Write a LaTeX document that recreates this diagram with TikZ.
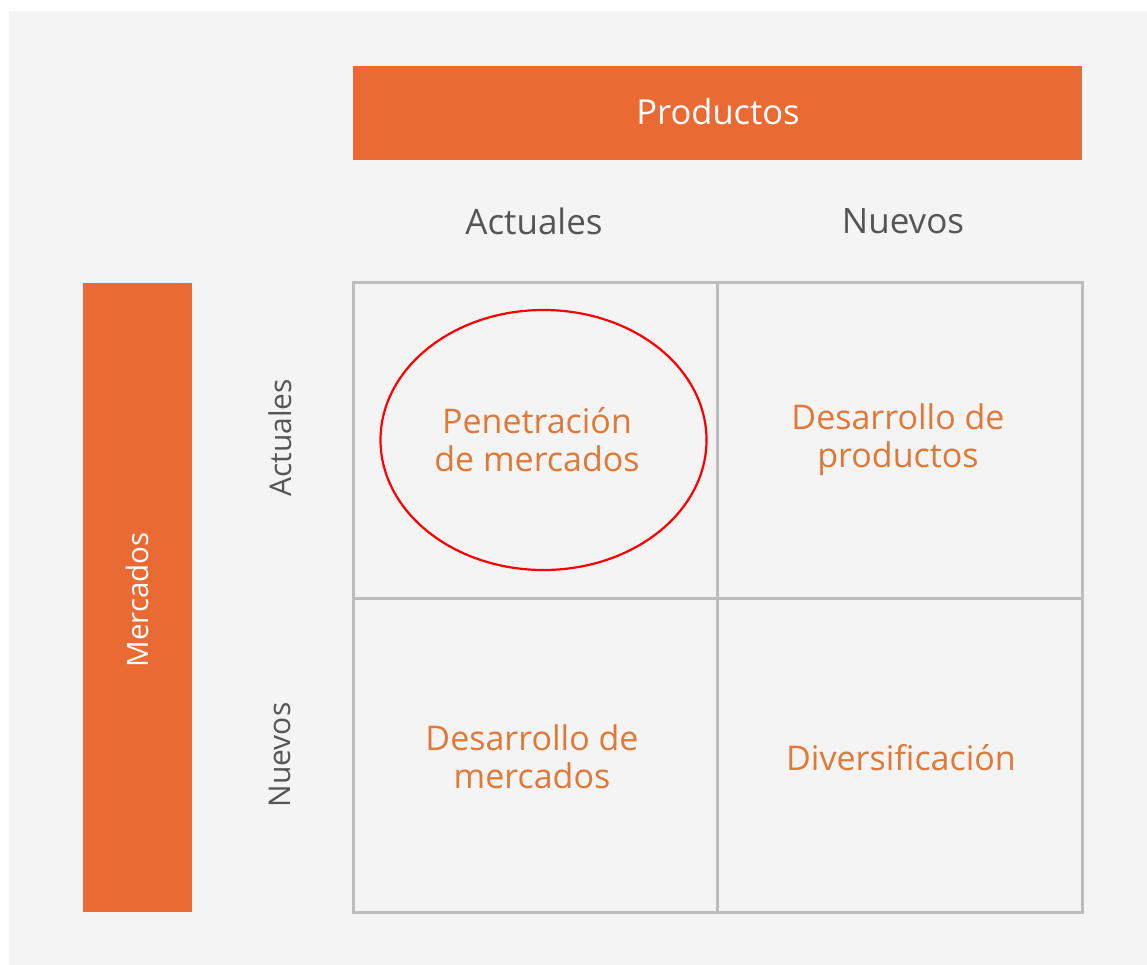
\documentclass[tikz,border=0pt]{standalone}
\usepackage{fontspec}
\setmainfont{Open Sans}
\definecolor{bgc}{HTML}{F4F4F4}
\definecolor{orng}{HTML}{E96B33}
\definecolor{celltxt}{HTML}{E07838}
\definecolor{grid}{HTML}{BDBDBD}
\definecolor{lbl}{HTML}{555555}
\begin{document}
\begin{tikzpicture}[x=1pt,y=-1pt,
  band/.style={fill=orng,draw=none},
  headtxt/.style={text=white,font=\fontsize{34.5}{40}\selectfont},
  vheadtxt/.style={text=white,font=\fontsize{29.5}{36}\selectfont},
  axistxt/.style={text=lbl,font=\fontsize{35}{40}\selectfont},
  vaxistxt/.style={text=lbl,font=\fontsize{30}{36}\selectfont},
  celltext/.style={text=celltxt,font=\fontsize{34}{38}\selectfont,align=center},
  gridline/.style={draw=grid,line width=3pt}]
\useasboundingbox (0,0) rectangle (1147,965);
\fill[white] (0,0) rectangle (1147,965);
\fill[bgc] (9,11) rectangle (1147,965);
% bands
\fill[band] (353,66) rectangle (1082,160);
\node[headtxt] (prod) at (718,112) {Productos};
\fill[band] (83,283) rectangle (192,912);
\node[vheadtxt,rotate=90] (merc) at (137.5,600) {Mercados};
% axis labels
\node[axistxt] (pa) at (534,221) {Actuales};
\node[axistxt] (pn) at (903,221) {Nuevos};
\node[vaxistxt,rotate=90] (ma) at (280,438) {Actuales};
\node[vaxistxt,rotate=90] (mn) at (280,755) {Nuevos};
% grid
\draw[gridline] (353,283) rectangle (1082,912);
\draw[gridline] (717,283) -- (717,912);
\draw[gridline] (353,598) -- (1082,598);
% cells
\node[celltext] (c11) at (537,440) {Penetración\\de mercados};
\node[celltext] (c12) at (898,440) {Desarrollo de\\productos};
\node[celltext] (c21) at (532,757) {Desarrollo de\\mercados};
\node[celltext] (c22) at (901,758) {Diversificación};
% ellipse
\draw[red,line width=2.2pt] (543.5,440) ellipse [x radius=163,y radius=130];
\end{tikzpicture}
\end{document}
